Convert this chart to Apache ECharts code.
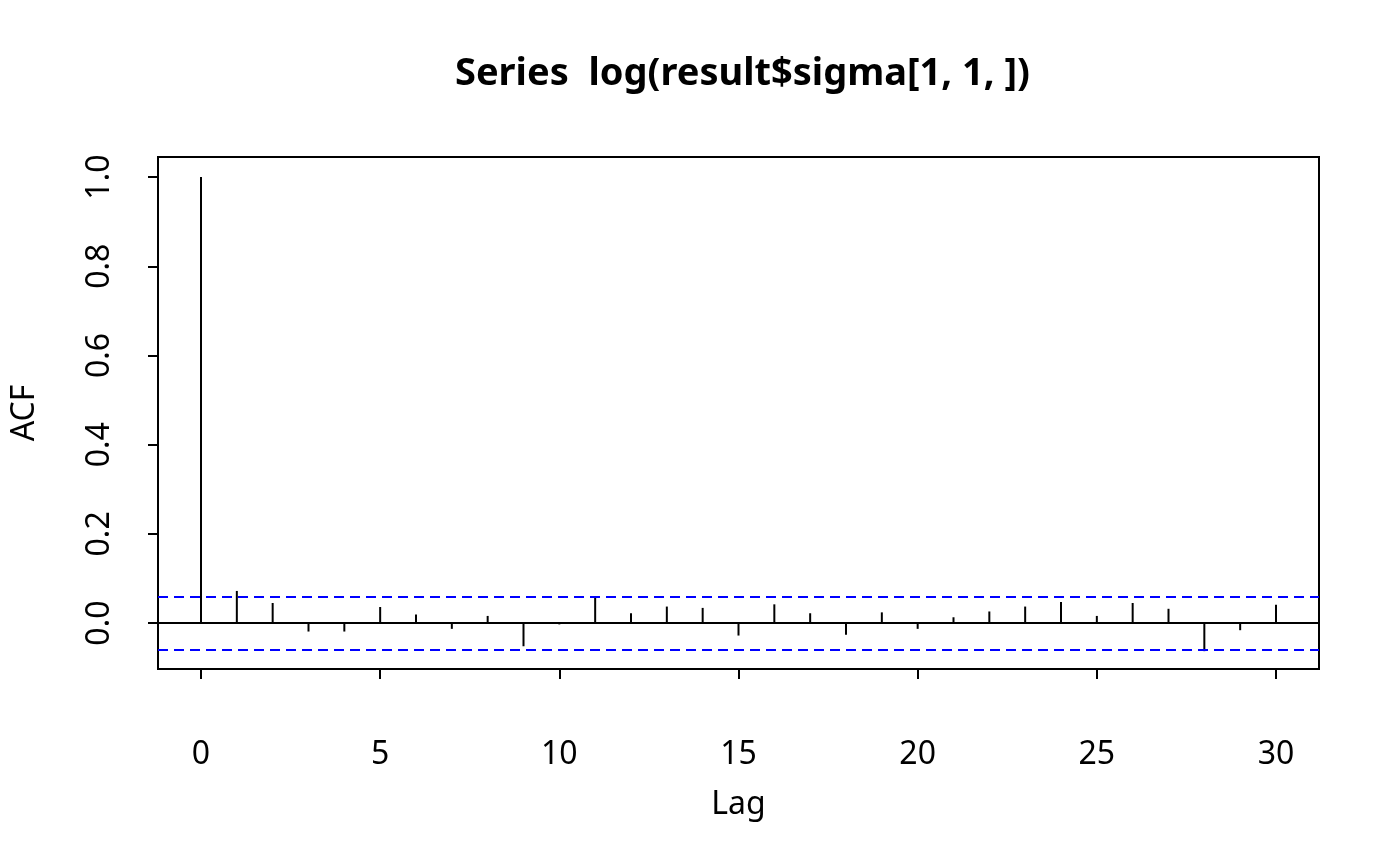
<!DOCTYPE html>
<html>
<head>
<meta charset="utf-8">
<script src="https://cdn.jsdelivr.net/npm/echarts@6/dist/echarts.min.js"></script>
<style>
  html, body { margin: 0; padding: 0; background: #fff; }
  #acf { width: 1400px; height: 866px; }
</style>
</head>
<body>
<div id="acf"></div>
<script>
// ACF values, lag 0..30
var lags = [0, 1, 2, 3, 4, 5, 6, 7, 8, 9, 10, 11, 12, 13, 14, 15, 16, 17, 18, 19, 20, 21, 22, 23, 24, 25, 26, 27, 28, 29, 30];
var acfValues = [1.0, 0.072, 0.045, -0.019, -0.019, 0.036, 0.019, -0.013, 0.016, -0.052, -0.003,
                 0.058, 0.022, 0.037, 0.034, -0.028, 0.042, 0.022, -0.026, 0.024, -0.013,
                 0.013, 0.026, 0.037, 0.047, 0.016, 0.045, 0.032, -0.063, -0.016, 0.041];
var ciBound = 0.062;
var xTicks = [0, 5, 10, 15, 20, 25, 30];
var yTicks = [0, 0.2, 0.4, 0.6, 0.8, 1.0];

var font = 'Noto Sans';
var chart = echarts.init(document.getElementById('acf'));

var spikes = lags.map(function (l, i) { return [l, acfValues[i]]; });

var option = {
    backgroundColor: '#fff',
    animation: false,
    title: {
        text: 'Series  log(result$sigma[1, 1, ])',
        left: 450,  // centred over the plot box, like R does
        top: 50,
        textStyle: { fontFamily: font, fontSize: 38, fontWeight: 'bold', color: '#000' }
    },
    grid: {
        left: 158, top: 157, width: 1161, height: 512,
        show: true,
        borderColor: '#000',
        borderWidth: 2,
        backgroundColor: 'transparent',
        outerBoundsMode: 'none'
    },
    xAxis: {
        type: 'value',
        min: -1.2,
        max: 31.2,
        name: 'Lag',
        nameLocation: 'middle',
        nameGap: 120,
        nameTextStyle: { fontFamily: font, fontSize: 32, color: '#000' },
        axisLine: { show: false, onZero: false },
        splitLine: { show: false },
        axisTick: { show: true, length: 10, customValues: xTicks, lineStyle: { color: '#000', width: 2 } },
        axisLabel: { customValues: xTicks, margin: 70, fontFamily: font, fontSize: 32, color: '#000' }
    },
    yAxis: {
        type: 'value',
        min: -0.103,
        max: 1.045,
        name: 'ACF',
        nameLocation: 'middle',
        nameGap: 117,
        nameRotate: 90,
        nameTextStyle: { fontFamily: font, fontSize: 32, color: '#000' },
        axisLine: { show: false, onZero: false },
        splitLine: { show: false },
        axisTick: { show: true, length: 10, customValues: yTicks, lineStyle: { color: '#000', width: 2 } },
        axisLabel: {
            customValues: yTicks,
            rotate: 90,
            margin: 42,
            fontFamily: font, fontSize: 32, color: '#000',
            formatter: function (v) { return v.toFixed(1); }
        }
    },
    series: [{
        type: 'custom',
        data: spikes,
        renderItem: function (params, api) {
            var top = api.coord([api.value(0), api.value(1)]);
            var base = api.coord([api.value(0), 0]);
            return {
                type: 'line',
                shape: { x1: base[0], y1: base[1], x2: top[0], y2: top[1] },
                style: { stroke: '#000', lineWidth: 2 }
            };
        }
    }, {
        type: 'line',
        data: [],
        markLine: {
            symbol: 'none',
            silent: true,
            label: { show: false },
            data: [
                { yAxis: 0, lineStyle: { color: '#000', type: 'solid', width: 2 } },
                { yAxis: ciBound, lineStyle: { color: '#0000ff', type: [10, 6], width: 2 } },
                { yAxis: -ciBound, lineStyle: { color: '#0000ff', type: [10, 6], width: 2 } }
            ]
        }
    }]
};
chart.setOption(option);
</script>
</body>
</html>
